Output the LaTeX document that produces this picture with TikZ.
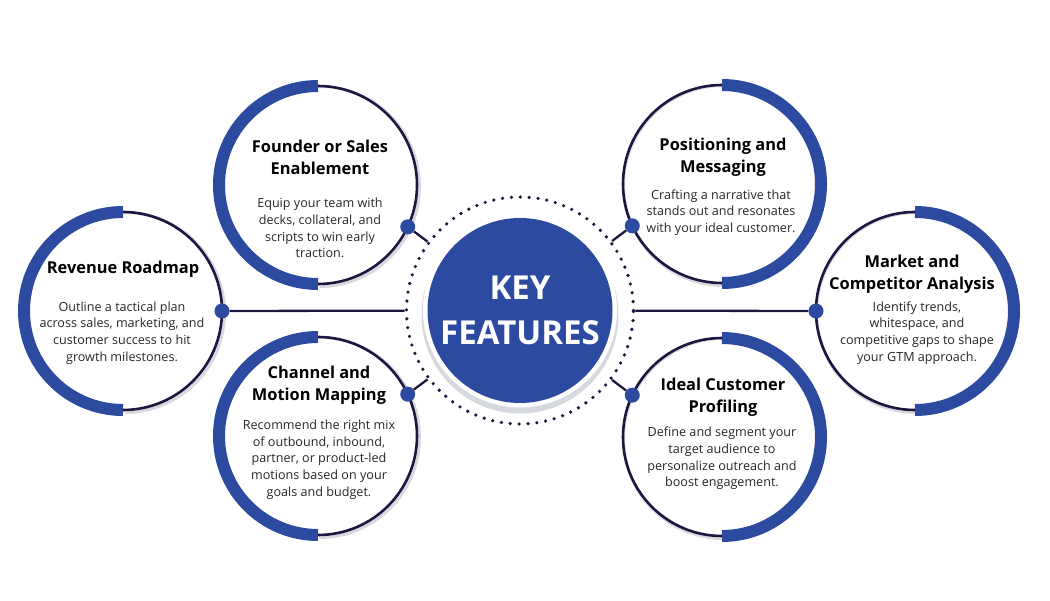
\documentclass[tikz,border=0pt]{standalone}
\usepackage{fontspec}
\setmainfont{Open Sans}
\usetikzlibrary{positioning, calc}
\definecolor{keyblue}{RGB}{44,74,160}
\definecolor{keynavy}{RGB}{28,22,64}
\definecolor{ringgray}{RGB}{214,218,222}

\begin{document}
\begin{tikzpicture}[x=1pt, y=1pt,
    title/.style={align=center, inner sep=0pt, font=\bfseries\fontsize{16.4}{22}\selectfont},
    body/.style={align=center, inner sep=0pt, text=black!85, font=\fontsize{12.6}{16.7}\selectfont},
    hub/.style={circle, fill=keyblue, inner sep=0pt, minimum size=15pt},
    link/.style={keynavy, line width=2.3pt}]
    \useasboundingbox (0,0) rectangle (1050,600);
    \fill[ringgray] (520,285) circle[radius=98.5];
    \fill[white] (520,289.5) circle[radius=97];
    \node[circle, draw=keynavy, line width=3.6pt, line cap=round, dash pattern=on 0pt off 8.9pt,
        minimum size=227pt, inner sep=0pt] (ring) at (520,289.5) {};
    \node[circle, fill=keyblue, minimum size=185pt, inner sep=0pt, text=white, align=center,
        font=\bfseries\fontsize{33}{45}\selectfont] (key) at (520,289.5) {KEY\\FEATURES};
    \foreach \name/\cx/\cy/\a/\d in {founder/318/415/90/-25, revenue/123/289/90/0,
        channel/318/164/90/25, position/722/416/-90/205, market/915/289/-90/180,
        ideal/722/163/-90/155} {
        \coordinate (\name) at (\cx,\cy);
        \draw[ringgray, line width=3pt] ($(\name)+(1.5,-1.5)+(\a+180:100)$) arc[start angle=\a+180, delta angle=180, radius=100];
        \draw[keyblue, line width=12pt] ($(\name)+(\a:99)$) arc[start angle=\a, delta angle=180, radius=99];
        \draw[keynavy, line width=2.6pt] ($(\name)+(\a+180:99)$) arc[start angle=\a+180, delta angle=180, radius=99];
        \node[hub] (\name-dot) at ($(\name)+(\d:99)$) {};
        \draw[link] (\name-dot) -- (ring);
    }
    \node[title] (founder-title) at (320,443) {Founder or Sales\\Enablement};
    \node[body] (founder-text) at (320,372) {Equip your team with\\decks, collateral, and\\scripts to win early\\traction.};
    \node[title] (revenue-title) at (123,331) {Revenue Roadmap};
    \node[body] (revenue-text) at (122,267) {Outline a tactical plan\\across sales, marketing, and\\customer success to hit\\growth milestones.};
    \node[title] (channel-title) at (319,215) {Channel and\\Motion Mapping};
    \node[body] (channel-text) at (319,140.5) {Recommend the right mix\\of outbound, inbound,\\partner, or product-led\\motions based on your\\goals and budget.};
    \node[title] (position-title) at (723,442.5) {Positioning and\\Messaging};
    \node[body] (position-text) at (721,387.5) {Crafting a narrative that\\stands out and resonates\\with your ideal customer.};
    \node[title] (market-title) at (912,325.5) {Market and\\Competitor Analysis};
    \node[body] (market-text) at (917,267) {Identify trends,\\whitespace, and\\competitive gaps to shape\\your GTM approach.};
    \node[title] (ideal-title) at (723,203) {Ideal Customer\\Profiling};
    \node[body] (ideal-text) at (722,141.5) {Define and segment your\\target audience to\\personalize outreach and\\boost engagement.};
\end{tikzpicture}
\end{document}
